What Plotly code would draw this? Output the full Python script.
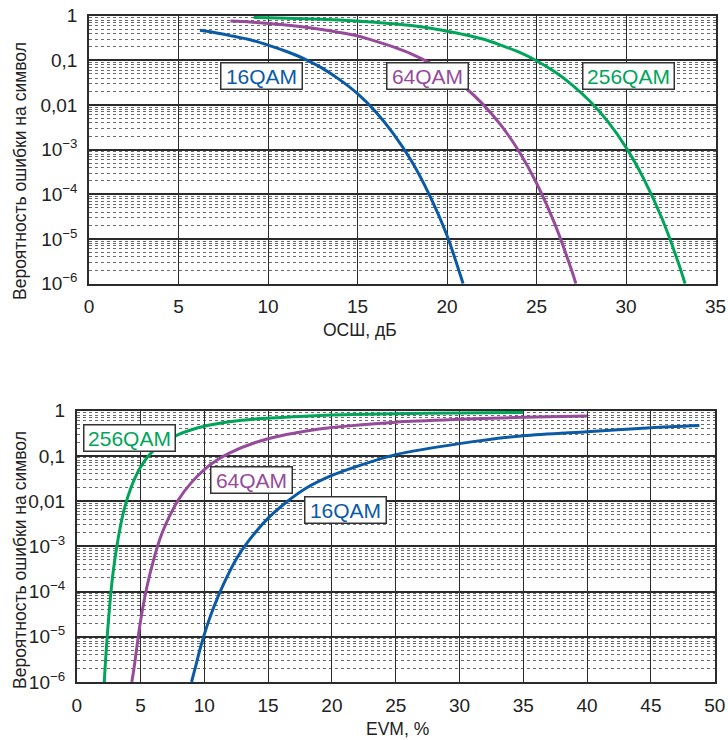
import plotly.graph_objects as go

# ---------- Top chart: SER vs SNR (dB) ----------
snr_16 = [6.2, 7, 8, 9, 10, 11, 12, 13, 14, 15, 16, 17, 18, 19, 20, 20.9]
ser_16 = [0.47, 0.42, 0.35, 0.29, 0.22, 0.16, 0.11, 0.068, 0.037, 0.018, 0.0072, 0.0023,
          5.7e-4, 1.0e-4, 1.2e-5, 1.0e-6]

snr_64 = [7.9, 9, 10, 11, 12, 13, 14, 15, 16, 17, 18, 19, 20, 21, 22, 23, 24, 25, 26, 27, 27.2]
ser_64 = [0.76, 0.72, 0.67, 0.62, 0.56, 0.49, 0.42, 0.35, 0.27, 0.20, 0.14, 0.089, 0.050,
          0.025, 0.0105, 0.0036, 9.5e-4, 1.8e-4, 2.3e-5, 1.8e-6, 1.0e-6]

snr_256 = [9.2, 10, 12, 14, 15, 16, 17, 18, 19, 20, 21, 22, 23, 24, 25, 26, 27, 28, 29, 30,
           31, 32, 33, 33.3]
ser_256 = [0.91, 0.90, 0.86, 0.80, 0.76, 0.71, 0.66, 0.60, 0.53, 0.45, 0.375, 0.30, 0.22,
           0.154, 0.098, 0.056, 0.028, 0.012, 0.0042, 1.13e-3, 2.2e-4, 2.95e-5, 2.4e-6, 1.0e-6]

# ---------- Bottom chart: SER vs EVM (%) ----------
evm_256 = [2.16, 2.24, 2.4, 2.6, 2.8, 3.0, 3.3, 3.6, 4.0, 4.5, 5.0, 5.6, 6.3, 7, 8, 9, 10,
           12, 14, 17, 20, 25, 30, 35]
evser_256 = [1.0e-6, 2.4e-6, 1.1e-5, 5.4e-5, 2.0e-4, 5.4e-4, 1.8e-3, 4.8e-3, 0.0123, 0.0295,
             0.056, 0.098, 0.154, 0.214, 0.30, 0.38, 0.453, 0.567, 0.653, 0.738, 0.80, 0.858,
             0.89, 0.913]

evm_64 = [4.32, 4.5, 4.75, 5.0, 5.5, 6.0, 6.5, 7.0, 8.0, 9.0, 10, 11, 12, 14, 16, 18, 20, 25,
          30, 35, 40]
evser_64 = [1.0e-6, 2.1e-6, 7.0e-6, 2.2e-5, 1.26e-4, 4.7e-4, 1.4e-3, 3.2e-3, 0.011, 0.026,
            0.050, 0.081, 0.117, 0.198, 0.279, 0.356, 0.424, 0.557, 0.643, 0.715, 0.766]

evm_16 = [9.0, 9.3, 9.7, 10.2, 10.8, 11.5, 12.5, 13.5, 15, 16.5, 18, 20, 22.5, 25, 30, 35, 40,
          45, 48.8]
evser_16 = [1.0e-6, 2.1e-6, 5.8e-6, 1.7e-5, 5.0e-5, 1.45e-4, 5.2e-4, 1.35e-3, 4.2e-3, 9.8e-3,
            0.0195, 0.037, 0.066, 0.107, 0.187, 0.28, 0.344, 0.42, 0.47]

labels = ["16QAM", "64QAM", "256QAM"]
ytick_vals = [1e-6, 1e-5, 1e-4, 1e-3, 0.01, 0.1, 1]
ytick_text = ["10<sup>−6</sup>", "10<sup>−5</sup>", "10<sup>−4</sup>", "10<sup>−3</sup>", "0,01", "0,1", "1"]
x1_ticks = [0, 5, 10, 15, 20, 25, 30, 35]
x2_ticks = [0, 5, 10, 15, 20, 25, 30, 35, 40, 45, 50]

BLUE = "#0b5aa6"
PURPLE = "#964b9b"
GREEN = "#00a55a"
DARK = "#2b2b2b"
FONT = "Liberation Sans, Arial, sans-serif"

W, H = 728, 740

fig = go.Figure()

def add_line(x, y, color, xa, ya):
    fig.add_trace(go.Scatter(x=x, y=y, mode="lines", xaxis=xa, yaxis=ya,
                             line=dict(color=color, width=3, shape="spline", smoothing=0.8),
                             showlegend=False, hoverinfo="skip"))

add_line(snr_16, ser_16, BLUE, "x", "y")
add_line(snr_64, ser_64, PURPLE, "x", "y")
add_line(snr_256, ser_256, GREEN, "x", "y")
add_line(evm_256, evser_256, GREEN, "x2", "y2")
add_line(evm_64, evser_64, PURPLE, "x2", "y2")
add_line(evm_16, evser_16, BLUE, "x2", "y2")

def px_x(p):
    return p / W

def px_y(p):
    return 1 - p / H

tickfont = dict(family=FONT, size=19, color="#222")

xcommon = dict(showline=True, mirror=True, linecolor=DARK, linewidth=1.5,
               showgrid=True, gridcolor=DARK, gridwidth=1.3, zeroline=False,
               ticks="outside", ticklen=5, tickcolor="rgba(0,0,0,0)",
               tickfont=tickfont, automargin=False, ticklabeloverflow="allow")
ycommon = dict(type="log", showline=True, mirror=True, linecolor=DARK, linewidth=1.5,
               showgrid=True, gridcolor=DARK, gridwidth=1.6, zeroline=False,
               range=[-6, 0], tickvals=ytick_vals, ticktext=ytick_text,
               ticks="outside", ticklen=6, tickcolor="rgba(0,0,0,0)",
               tickfont=tickfont, automargin=False, ticklabeloverflow="allow",
               minor=dict(dtick="D1", showgrid=True, gridcolor="#6a6a6a",
                          gridwidth=1, griddash="dot", ticks=""))

fig.update_layout(
    width=W, height=H, autosize=False,
    margin=dict(l=0, r=0, t=0, b=0, autoexpand=False),
    paper_bgcolor="white", plot_bgcolor="white",
    font=dict(family=FONT, color="#222"),
    xaxis=dict(domain=[px_x(89), px_x(715.5)], range=[0, 35], tickvals=x1_ticks,
               anchor="y", **xcommon),
    yaxis=dict(domain=[px_y(283.7), px_y(15.7)], anchor="x", **ycommon),
    xaxis2=dict(domain=[px_x(76.7), px_x(714.7)], range=[0, 50], tickvals=x2_ticks,
                anchor="y2", **xcommon),
    yaxis2=dict(domain=[px_y(682), px_y(410.7)], anchor="x2", **ycommon),
)

def box_label(text, x, y, xr, yr, color, width):
    fig.add_annotation(text=text, x=x, y=y, xref=xr, yref=yr, showarrow=False,
                       font=dict(family=FONT, size=21, color=color),
                       bgcolor="white", bordercolor="#333", borderwidth=1.5,
                       borderpad=0, width=width, height=25,
                       xanchor="center", yanchor="middle")

# top labels (log10 positions on y)
box_label(labels[0], 9.65, -1.35, "x", "y", BLUE, 80)
box_label(labels[1], 18.93, -1.35, "x", "y", PURPLE, 80)
box_label(labels[2], 30.16, -1.35, "x", "y", GREEN, 90)
# bottom labels
box_label(labels[2], 4.16, -0.593, "x2", "y2", GREEN, 90)
box_label(labels[1], 13.72, -1.533, "x2", "y2", PURPLE, 80)
box_label(labels[0], 21.03, -2.197, "x2", "y2", BLUE, 80)

title_font = dict(family=FONT, size=17.5, color="#222")
fig.add_annotation(text="Вероятность ошибки на символ", textangle=-90,
                   x=px_x(20), y=px_y(171), xref="paper", yref="paper",
                   showarrow=False, font=title_font, xanchor="center", yanchor="middle")
fig.add_annotation(text="Вероятность ошибки на символ", textangle=-90,
                   x=px_x(20), y=px_y(560), xref="paper", yref="paper",
                   showarrow=False, font=title_font, xanchor="center", yanchor="middle")
fig.add_annotation(text="ОСШ, дБ", x=px_x(360), y=px_y(330), xref="paper", yref="paper",
                   showarrow=False, font=title_font, xanchor="center", yanchor="middle")
fig.add_annotation(text="EVM, %", x=px_x(398), y=px_y(729), xref="paper", yref="paper",
                   showarrow=False, font=title_font, xanchor="center", yanchor="middle")

# remove the default 8px page margin so the 728x740 figure fills the window exactly
fig.write_html("out.html",
               config={"displayModeBar": False},
               post_script="document.body.style.margin='0px';"
                           "document.body.style.overflow='hidden';")
